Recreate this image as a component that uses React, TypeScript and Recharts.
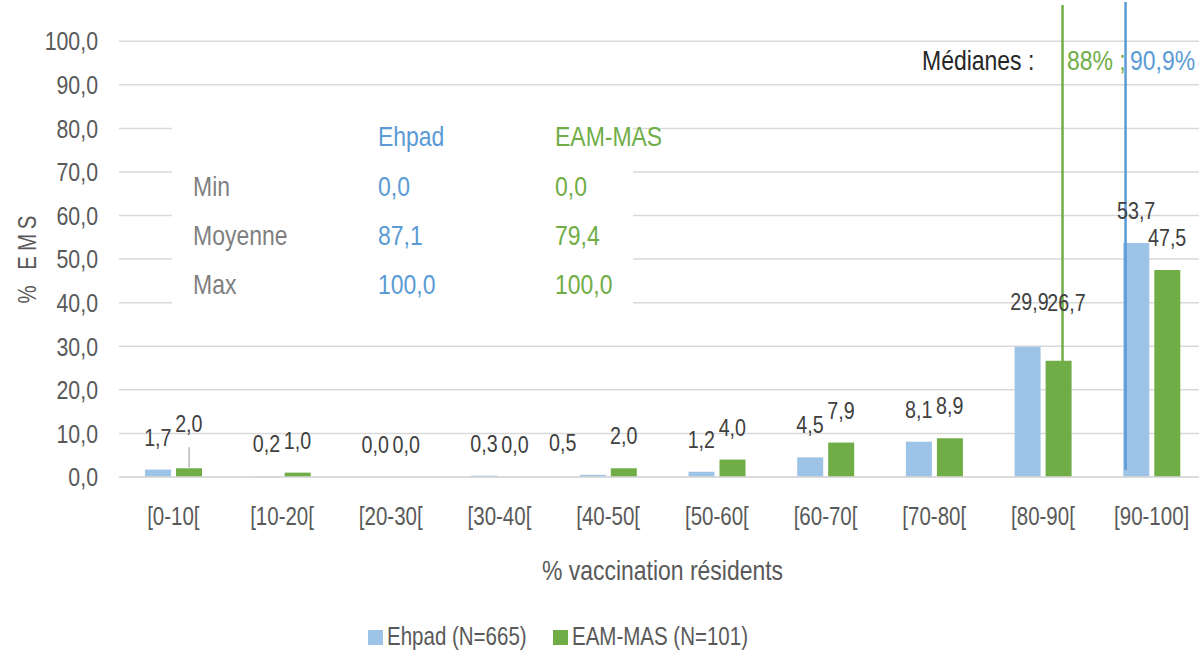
import {
  BarChart,
  Bar,
  XAxis,
  YAxis,
  CartesianGrid,
  ReferenceLine,
  ReferenceDot,
  Label,
} from "recharts";

// vaccination classes (x axis) and their midpoints on the 0-100 scale
const categories = [
  "[0-10[",
  "[10-20[",
  "[20-30[",
  "[30-40[",
  "[40-50[",
  "[50-60[",
  "[60-70[",
  "[70-80[",
  "[80-90[",
  "[90-100]",
];
const classMid = [5, 15, 25, 35, 45, 55, 65, 75, 85, 95];

// % of establishments per class
const ehpadValues = [1.7, 0.2, 0.0, 0.3, 0.5, 1.2, 4.5, 8.1, 29.9, 53.7];
const eamValues = [2.0, 1.0, 0.0, 0.0, 2.0, 4.0, 7.9, 8.9, 26.7, 47.5];

const seriesNames = ["Ehpad (N=665)", "EAM-MAS (N=101)"];
const yTicks = [0, 10, 20, 30, 40, 50, 60, 70, 80, 90, 100];

// summary table
const statLabels = ["Min", "Moyenne", "Max"];
const statEhpad = [0.0, 87.1, 100.0];
const statEam = [0.0, 79.4, 100.0];

// medians (text) and where the marker lines sit on the 0-100 scale
const medianEhpadText = "90,9%";
const medianEamText = "88%";
const medianEhpadMark = 92.6;
const medianEamMark = 86.8;

const BLUE = "#9DC3E6";
const BLUE_TEXT = "#5B9BD5";
const GREEN = "#70AD47";
const AXIS_TEXT = "#595959";
const FONT = '"Liberation Sans", Arial, sans-serif';
const SX = 0.82; // narrow face, like the original

// manual label shifts, like the hand-moved labels of the original
const labelNudge: Record<string, [number, number]> = {
  "eam-0": [0, -12],
  "ehpad-4": [-30, 0],
  "ehpad-8": [2, -13],
  "eam-8": [8, -26],
};

const fmt = (v: number) => v.toFixed(1).replace(".", ",");

function NarrowText({
  x,
  y,
  size,
  fill,
  anchor = "middle",
  dy = "0",
  children,
}: any) {
  return (
    <text
      transform={`translate(${x},${y}) scale(${SX},1)`}
      textAnchor={anchor}
      dy={dy}
      fontSize={size}
      fill={fill}
      fontFamily={FONT}
    >
      {children}
    </text>
  );
}

function barLabel(key: string, index: number, value: number, shift: number) {
  const [dx, dy] = labelNudge[`${key}-${index}`] ?? [0, 0];
  return (p: any) => {
    const vb = p.viewBox;
    return (
      <NarrowText
        x={vb.x + vb.width / 2 + shift + dx}
        y={vb.y - 24 + dy}
        size={24}
        fill="#404040"
      >
        {fmt(value)}
      </NarrowText>
    );
  };
}

const XTick = (p: any) => (
  <NarrowText x={p.x} y={p.y} size={25} fill={AXIS_TEXT} dy="0.71em">
    {categories[classMid.indexOf(Number(p.payload.value))]}
  </NarrowText>
);

const YTick = (p: any) => (
  <NarrowText
    x={p.x}
    y={p.y}
    size={26}
    fill={AXIS_TEXT}
    anchor="end"
    dy="0.355em"
  >
    {fmt(Number(p.payload.value))}
  </NarrowText>
);

export default function App() {
  const data = categories.map((name, i) => ({
    name,
    mid: classMid[i],
    ehpad: ehpadValues[i],
    eam: eamValues[i],
  }));

  const abs = (left: number, top: number, color: string, size = 28) => ({
    position: "absolute" as const,
    left,
    top,
    color,
    fontSize: size,
    lineHeight: 1,
    whiteSpace: "nowrap" as const,
    transform: `scaleX(${SX})`,
    transformOrigin: "0 50%",
  });

  const offset = (26 + 5) / 2;

  return (
    <div
      style={{
        position: "absolute",
        left: 0,
        top: 0,
        width: 1199,
        height: 659,
        overflow: "hidden",
        background: "#fff",
        fontFamily: FONT,
      }}
    >
      <BarChart
        width={1210}
        height={659}
        data={data}
        margin={{ top: 2, right: 4, bottom: 0, left: 0 }}
        barSize={26}
        barGap={5}
      >
        <CartesianGrid
          vertical={false}
          syncWithTicks
          stroke="#D9D9D9"
          strokeWidth={1.5}
        />
        <XAxis
          dataKey="mid"
          type="number"
          domain={[0, 100]}
          ticks={classMid}
          interval={0}
          height={182}
          tickLine={false}
          tickSize={0}
          tickMargin={30}
          axisLine={{ stroke: "#D9D9D9", strokeWidth: 1.5 }}
          tick={XTick}
        >
          <Label
            content={(p: any) => {
              const vb = p.viewBox;
              return (
                <NarrowText x={vb.x + vb.width / 2} y={580} size={28} fill={AXIS_TEXT}>
                  % vaccination résidents
                </NarrowText>
              );
            }}
          />
        </XAxis>
        <YAxis
          width={119}
          domain={[0, 109]}
          ticks={yTicks}
          interval={0}
          axisLine={false}
          tickLine={false}
          tickSize={0}
          tickMargin={21}
          tick={YTick}
        >
          <Label
            content={() => (
              <text
                transform={`translate(27,257) rotate(-90) scale(${SX},1)`}
                textAnchor="middle"
                dy="0.355em"
                fontSize={25}
                letterSpacing={6}
                fill={AXIS_TEXT}
                fontFamily={FONT}
              >
                % EMS
              </text>
            )}
          />
        </YAxis>
        <Bar dataKey="ehpad" fill={BLUE} isAnimationActive={false} />
        <Bar dataKey="eam" fill={GREEN} isAnimationActive={false} />
        {data.map((d, i) => (
          <ReferenceDot
            key={`e${i}`}
            x={d.mid}
            y={d.ehpad}
            r={0}
            fill="none"
            stroke="none"
            label={barLabel("ehpad", i, d.ehpad, -offset)}
          />
        ))}
        {data.map((d, i) => (
          <ReferenceDot
            key={`m${i}`}
            x={d.mid}
            y={d.eam}
            r={0}
            fill="none"
            stroke="none"
            label={barLabel("eam", i, d.eam, offset)}
          />
        ))}
        {/* leader line of the moved "2,0" label */}
        <ReferenceLine
          segment={[
            { x: 6.45, y: 2.2 },
            { x: 6.45, y: 6.8 },
          ]}
          stroke="#A6A6A6"
          strokeWidth={1.2}
          ifOverflow="visible"
        />
        <ReferenceLine
          segment={[
            { x: medianEamMark, y: 0 },
            { x: medianEamMark, y: 108.3 },
          ]}
          stroke={GREEN}
          strokeWidth={2.5}
          ifOverflow="visible"
        />
        <ReferenceLine
          segment={[
            { x: medianEhpadMark, y: 1.6 },
            { x: medianEhpadMark, y: 109 },
          ]}
          stroke={BLUE_TEXT}
          strokeWidth={2.5}
          ifOverflow="visible"
        />
      </BarChart>

      {/* summary box */}
      <div
        style={{
          position: "absolute",
          left: 172,
          top: 110,
          width: 461,
          height: 220,
          background: "#fff",
        }}
      />
      <div style={abs(378, 123, BLUE_TEXT)}>Ehpad</div>
      <div style={abs(555, 123, GREEN)}>EAM-MAS</div>
      {statLabels.map((s, i) => {
        const top = [173, 222, 271][i];
        return (
          <div key={s}>
            <div style={abs(193, top, "#7F7F7F")}>{s}</div>
            <div style={abs(378, top, BLUE_TEXT)}>{fmt(statEhpad[i])}</div>
            <div style={abs(555, top, GREEN)}>{fmt(statEam[i])}</div>
          </div>
        );
      })}

      {/* medians */}
      <div style={abs(922, 47, "#262626")}>Médianes :</div>
      <div style={abs(1067, 47, GREEN)}>{medianEamText} ;</div>
      <div style={abs(1130, 47, BLUE_TEXT)}>{medianEhpadText}</div>

      {/* legend */}
      {seriesNames.map((n, i) => {
        const left = [368, 553][i];
        return (
          <div key={n}>
            <div
              style={{
                position: "absolute",
                left,
                top: 630,
                width: 15,
                height: 15,
                background: i === 0 ? BLUE : GREEN,
              }}
            />
            <div style={abs(left + 19, 624, AXIS_TEXT, 25)}>{n}</div>
          </div>
        );
      })}
    </div>
  );
}
